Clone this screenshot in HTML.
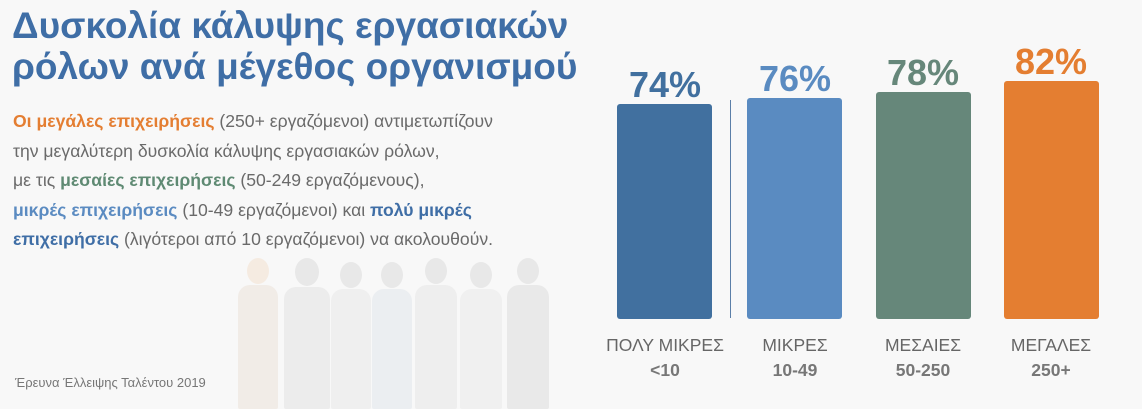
<!DOCTYPE html>
<html><head><meta charset="utf-8"><style>
body{margin:0;width:1142px;height:409px;background:#f8f8f8;position:relative;overflow:hidden;font-family:"Liberation Sans",sans-serif}
.t{position:absolute;left:12px;top:5px;font-size:37px;font-weight:bold;color:#3f6ea6;line-height:41px;letter-spacing:0}
.p{position:absolute;left:13px;top:107px;font-size:17.6px;color:#6a6a6a;line-height:29.5px;white-space:nowrap}
.o{color:#e47e32;font-weight:bold}.g{color:#5f8a73;font-weight:bold}.l{color:#5b8bc1;font-weight:bold}.d{color:#3f6ea6;font-weight:bold}
.b{position:absolute;width:95px;border-radius:3px;bottom:90px}
.v{position:absolute;width:130px;text-align:center;font-size:36px;font-weight:bold}
.c{position:absolute;width:140px;text-align:center;font-size:17.5px;color:#666;line-height:25px;top:333px}
.c b{color:#777}
.f{position:absolute;left:15px;top:375px;font-size:13px;color:#777}
.pp{position:absolute;background:#ececec;border-radius:12px 12px 2px 2px}
.h{position:absolute;background:#e8e8e8;border-radius:50%}
</style></head><body>
<div class="t">Δυσκολία κάλυψης εργασιακών<br>ρόλων ανά μέγεθος οργανισμού</div>
<div class="p"><span class="o">Οι μεγάλες επιχειρήσεις</span> (250+ εργαζόμενοι) αντιμετωπίζουν<br>την μεγαλύτερη δυσκολία κάλυψης εργασιακών ρόλων,<br>με τις <span class="g">μεσαίες επιχειρήσεις</span> (50-249 εργαζόμενους),<br><span class="l">μικρές επιχειρήσεις</span> (10-49 εργαζόμενοι) και <span class="d">πολύ μικρές</span><br><span class="d">επιχειρήσεις</span> (λιγότεροι από 10 εργαζόμενοι) να ακολουθούν.</div>
<div class="h" style="left:247px;top:258px;width:22px;height:26px;background:#f5ebe1"></div><div class="pp" style="left:238px;top:285px;width:40px;height:124px;background:#f1ece7"></div>
<div class="h" style="left:295px;top:258px;width:24px;height:28px"></div><div class="pp" style="left:284px;top:287px;width:46px;height:122px"></div>
<div class="h" style="left:340px;top:262px;width:22px;height:26px"></div><div class="pp" style="left:331px;top:289px;width:40px;height:120px;background:#efefef"></div>
<div class="h" style="left:381px;top:262px;width:22px;height:26px"></div><div class="pp" style="left:372px;top:289px;width:40px;height:120px;background:#ebeef1"></div>
<div class="h" style="left:425px;top:258px;width:22px;height:26px"></div><div class="pp" style="left:415px;top:285px;width:42px;height:124px;background:#eeeeee"></div>
<div class="h" style="left:470px;top:262px;width:22px;height:26px"></div><div class="pp" style="left:460px;top:289px;width:42px;height:120px;background:#f0f0f0"></div>
<div class="h" style="left:517px;top:258px;width:22px;height:26px"></div><div class="pp" style="left:507px;top:285px;width:42px;height:124px;background:#e9e9e9"></div>
<div class="f">Έρευνα Έλλειψης Ταλέντου 2019</div>
<div style="position:absolute;left:730px;top:100px;width:1px;height:218px;background:#5b7fa8"></div>
<div class="b" style="left:617px;height:215px;background:#41709f"></div>
<div class="b" style="left:747px;height:221px;background:#5a8bc1"></div>
<div class="b" style="left:876px;height:227px;background:#66877a"></div>
<div class="b" style="left:1004px;height:238px;background:#e47e31"></div>
<div class="v" style="left:600px;top:64px;color:#41709f">74%</div>
<div class="v" style="left:730px;top:58px;color:#5a8bc1">76%</div>
<div class="v" style="left:858px;top:52px;color:#66877a">78%</div>
<div class="v" style="left:986px;top:41px;color:#e47e31">82%</div>
<div class="c" style="left:595px">ΠΟΛΥ ΜΙΚΡΕΣ<br><b>&lt;10</b></div>
<div class="c" style="left:725px">ΜΙΚΡΕΣ<br><b>10-49</b></div>
<div class="c" style="left:853px">ΜΕΣΑΙΕΣ<br><b>50-250</b></div>
<div class="c" style="left:981px">ΜΕΓΑΛΕΣ<br><b>250+</b></div>
</body></html>
